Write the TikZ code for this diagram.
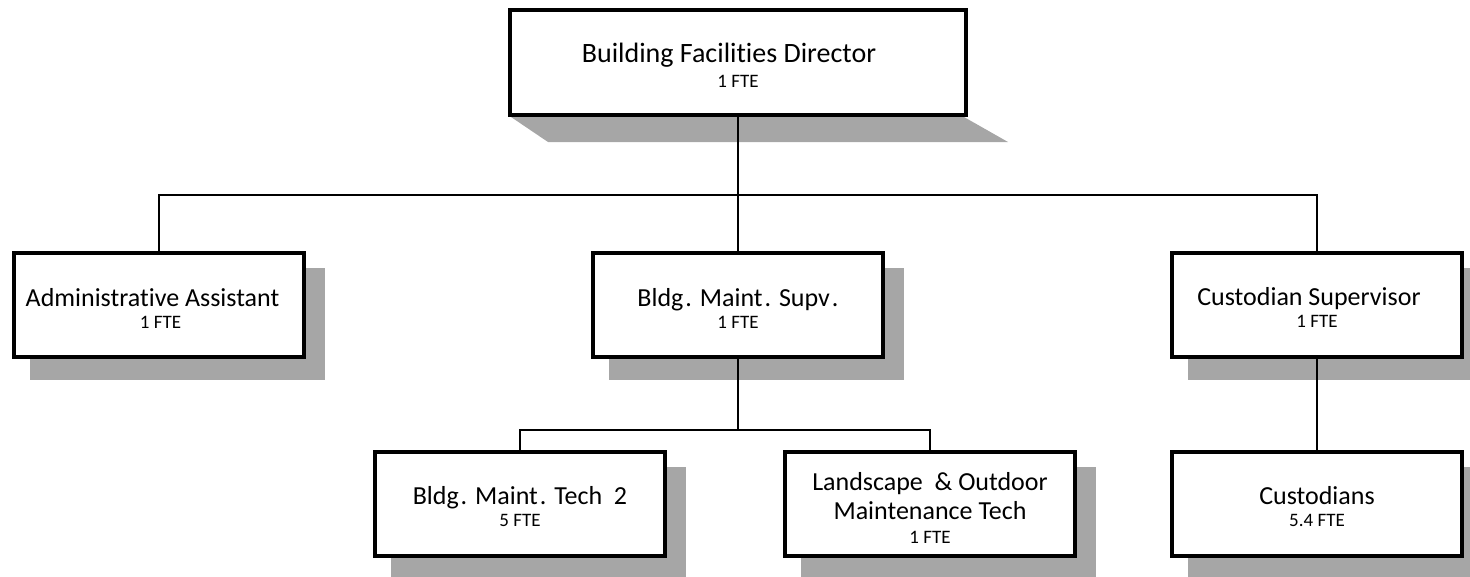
\documentclass[tikz,border=0pt]{standalone}
\usepackage{fontspec}
\setmainfont{Carlito}[Ligatures=NoCommon]
\usetikzlibrary{backgrounds}
\definecolor{shadowgray}{HTML}{A6A6A6}
\newcommand\ftesize{\fontsize{19}{22}\selectfont}
\newcommand\lowdepth[1]{\rule[-#1]{0pt}{#1}}
\newcommand\topup[1]{\rule{0pt}{\dimexpr\fontcharht\font`l+#1\relax}}
\begin{document}
\begin{tikzpicture}[x=1pt,y=-1pt,
  box/.style={draw=black,line width=4pt,fill=white,align=center,inner sep=0pt,outer sep=0pt,
    minimum width=290pt,minimum height=104pt,font=\fontsize{26}{30}\selectfont},
  conn/.style={draw=black,line width=2pt},
  shade/.style={fill=shadowgray}]
\useasboundingbox (0,0) rectangle (1470,576);

% boxes
\node[box,minimum width=456pt,minimum height=105pt,font=\fontsize{28}{30}\selectfont] (dir) at (738,62.5)
  {\topup{8pt}Building Facilities Director\kern18pt\\[-5pt]{\ftesize 1 FTE\lowdepth{3pt}}};
\node[box] (admin) at (158.5,304.5) {\topup{12pt}Administrative Assistant\kern12pt\\[-8pt]{\ftesize\kern4pt 1 FTE\lowdepth{5pt}}};
\node[box] (supv) at (738,305) {\topup{10pt}Bldg\kern2pt. Maint\kern2pt. Supv\kern2pt.\\[-8pt]{\ftesize 1 FTE\lowdepth{4pt}}};
\node[box] (cust) at (1317,305) {\topup{7pt}Custodian Supervisor\kern16pt\\[-8pt]{\ftesize 1 FTE\lowdepth{3pt}}};
\node[box] (tech) at (520,503.5) {\topup{8pt}Bldg\kern2pt. Maint\kern2pt. Tech\ \ 2\\[-8pt]{\ftesize 5 FTE\lowdepth{3pt}}};
\node[box] (land) at (930,503.5) {\topup{12pt}Landscape\ \ \&\ Outdoor\\[-1pt]Maintenance Tech\\[-6pt]{\ftesize 1 FTE\lowdepth{4pt}}};
\node[box] (custs) at (1317,503.5) {\topup{8pt}Custodians\\[-8pt]{\ftesize 5.4 FTE\lowdepth{3pt}}};

% shadows
\begin{pgfonlayer}{background}
  \fill[shade] ([shift={(1,2)}]dir.south west) -- ([shift={(-2,2)}]dir.south east)
     -- ([shift={(42,27)}]dir.south east) -- ([shift={(38,27)}]dir.south west) -- cycle;
  \foreach \n in {admin,supv,cust,tech,land,custs}{
    \fill[shade] ([shift={(16,15)}]\n.north west) rectangle ([shift={(21,23)}]\n.south east);
  }
\end{pgfonlayer}

% connectors
\coordinate (bus1) at (738,195);
\coordinate (bus2) at (738,430);
\draw[conn] (dir.south) -- (bus1);
\draw[conn] (admin.north) |- (bus1);
\draw[conn] (cust.north) |- (bus1);
\draw[conn] (bus1) -- (supv.north);
\draw[conn] (supv.south) -- (bus2);
\draw[conn] (tech.north) |- (bus2);
\draw[conn] (land.north) |- (bus2);
\draw[conn] (cust.south) -- (custs.north);
\end{tikzpicture}
\end{document}
